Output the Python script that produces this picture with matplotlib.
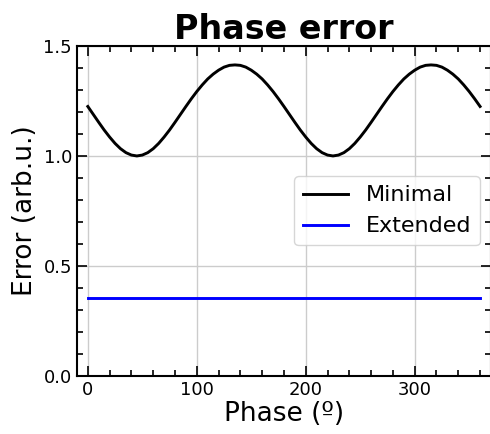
import numpy as np
import matplotlib
matplotlib.use("Agg")
import matplotlib.pyplot as plt
from matplotlib.ticker import MultipleLocator

# phase in degrees, 5 deg steps
phase = np.arange(0, 365, 5)

# one half-period of the "minimal" error (0..180 deg)
half = [1.225, 1.189, 1.153, 1.118, 1.086, 1.057, 1.033, 1.015, 1.004, 1.000,
        1.004, 1.015, 1.033, 1.057, 1.086, 1.118, 1.153, 1.189, 1.225, 1.260,
        1.293, 1.323, 1.350, 1.372, 1.390, 1.404, 1.412, 1.414, 1.412, 1.404,
        1.390, 1.372, 1.350, 1.323, 1.293, 1.260]
minimal = half + half + [1.225]
extended = [0.355] * len(phase)

fig = plt.figure(figsize=(4.9, 4.34), dpi=100)
ax = fig.add_axes([0.157, 0.134, 0.845, 0.760])

ax.plot(phase, minimal, color="black", lw=2.1, label="Minimal")
ax.plot(phase, extended, color="blue", lw=2.1, label="Extended")

ax.set_xlim(-10, 370)
ax.set_ylim(0, 1.5)
ax.xaxis.set_major_locator(MultipleLocator(100))
ax.xaxis.set_minor_locator(MultipleLocator(20))
ax.yaxis.set_major_locator(MultipleLocator(0.5))
ax.yaxis.set_minor_locator(MultipleLocator(0.1))
ax.tick_params(which="both", direction="in", top=True, right=True, labelsize=13, width=1.2)
ax.tick_params(which="major", length=7)
ax.tick_params(which="minor", length=4)
for s in ax.spines.values():
    s.set_linewidth(1.5)
ax.grid(True, which="major", color="#cccccc", lw=1)

ax.set_title("Phase error", fontsize=24, fontweight="bold", pad=5)
ax.set_xlabel("Phase (º)", fontsize=19, labelpad=2)
ax.set_ylabel("Error (arb.u.)", fontsize=19)
ax.legend(loc="center right", fontsize=16)

fig.savefig("out.png", dpi=100)
